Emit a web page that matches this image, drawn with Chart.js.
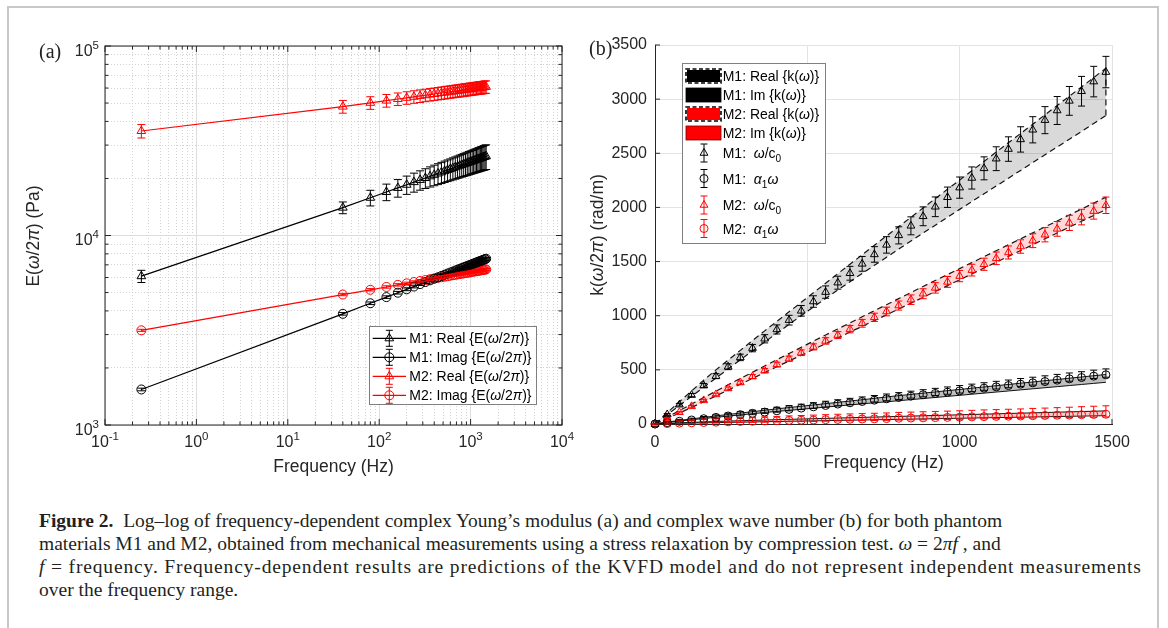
<!DOCTYPE html>
<html><head><meta charset="utf-8">
<script src="https://cdn.jsdelivr.net/npm/chart.js@4.4.1/dist/chart.umd.min.js"></script>
<style>
html,body{margin:0;padding:0;background:#fff;width:1168px;height:628px;overflow:hidden;}
#frame{position:absolute;left:7px;top:6px;width:1152px;height:640px;border:2px solid #c8c8c8;box-sizing:border-box;}
canvas{position:absolute;}
#ca{left:20px;top:20px;}
#cb{left:580px;top:20px;}
.plab{position:absolute;font-family:"Liberation Serif","Times New Roman",serif;font-size:20px;color:#222;line-height:24px;}
#cap{position:absolute;left:39px;top:509px;font-family:"Liberation Serif","Times New Roman",serif;font-size:19.5px;line-height:23px;color:#231f20;white-space:nowrap;}
#cap .l3{letter-spacing:0.85px;}
</style></head>
<body>
<div id="frame"></div>
<canvas id="ca" width="560" height="470"></canvas>
<canvas id="cb" width="580" height="470"></canvas>
<div class="plab" style="left:39px;top:39px">(a)</div>
<div class="plab" style="left:589px;top:36px">(b)</div>
<div id="cap"><b>Figure 2.</b>&nbsp; Log–log of frequency-dependent complex Young’s modulus (a) and complex wave number (b) for both phantom<br>materials M1 and M2, obtained from mechanical measurements using a stress relaxation by compression test. <i>ω</i> = 2<i>πf</i> , and<br><span class="l3"><i>f</i> = frequency. Frequency-dependent results are predictions of the KVFD model and do not represent independent measurements</span><br>over the frequency range.</div>
<script>
// ---------- shared frequencies ----------
const freqHz = [0.25, 40, 80, 120, 160, 200, 240, 280, 320, 360, 400, 440, 480, 520, 560, 600, 640, 680, 720, 760, 800, 840, 880, 920, 960, 1000, 1040, 1080, 1120, 1160, 1200, 1240, 1280, 1320, 1360, 1400, 1440, 1480];

// ---------- panel (a): complex Young's modulus (Pa) ----------
const m1RealE = [6100, 14030, 15820, 16970, 17830, 18530, 19130, 19640, 20100, 20520, 20900, 21240, 21570, 21870, 22150, 22410, 22670, 22900, 23130, 23350, 23560, 23760, 23950, 24130, 24310, 24490, 24650, 24810, 24970, 25120, 25270, 25410, 25550, 25690, 25820, 25950, 26080, 26200];
const m1RealEErr = [450, 1000, 1500, 1700, 1900, 2050, 2200, 2300, 2400, 2500, 2600, 2680, 2750, 2820, 2890, 2950, 3010, 3070, 3120, 3170, 3220, 3270, 3320, 3370, 3410, 3450, 3490, 3530, 3570, 3610, 3650, 3690, 3720, 3760, 3790, 3830, 3860, 3900];
const m1ImagE = [1540, 3860, 4390, 4730, 4990, 5200, 5380, 5540, 5680, 5800, 5920, 6020, 6120, 6210, 6300, 6380, 6450, 6530, 6600, 6660, 6730, 6790, 6850, 6900, 6960, 7010, 7060, 7110, 7160, 7210, 7250, 7300, 7340, 7380, 7420, 7460, 7500, 7540];
const m1ImagEErr = [25, 60, 70, 75, 80, 85, 90, 90, 95, 95, 100, 100, 100, 105, 105, 105, 110, 110, 110, 110, 115, 115, 115, 115, 120, 120, 120, 120, 120, 125, 125, 125, 125, 125, 130, 130, 130, 130];
const m2RealE = [35600, 47900, 50150, 51520, 52510, 53290, 53940, 54500, 54980, 55420, 55800, 56160, 56480, 56780, 57060, 57330, 57570, 57800, 58020, 58230, 58430, 58620, 58800, 58980, 59140, 59300, 59460, 59610, 59750, 59890, 60020, 60150, 60280, 60400, 60530, 60640, 60760, 60870];
const m2RealEErr = [2900, 3700, 3850, 3950, 4000, 4050, 4100, 4150, 4150, 4200, 4200, 4250, 4250, 4300, 4300, 4300, 4350, 4350, 4350, 4400, 4400, 4400, 4400, 4450, 4450, 4450, 4450, 4500, 4500, 4500, 4500, 4500, 4550, 4550, 4550, 4550, 4550, 4600];
const m2ImagE = [3160, 4880, 5170, 5350, 5490, 5590, 5680, 5750, 5820, 5880, 5930, 5980, 6020, 6060, 6100, 6140, 6170, 6200, 6230, 6260, 6290, 6310, 6340, 6360, 6380, 6410, 6430, 6450, 6470, 6490, 6510, 6520, 6540, 6560, 6570, 6590, 6610, 6620];
const m2ImagEErr = [40, 70, 75, 78, 80, 82, 84, 85, 86, 87, 88, 89, 90, 90, 91, 92, 92, 93, 93, 94, 94, 95, 95, 95, 96, 96, 96, 97, 97, 97, 98, 98, 98, 98, 99, 99, 99, 100];
const aXTickExps = [-1, 0, 1, 2, 3, 4];
const aYTickExps = [3, 4, 5];

// ---------- panel (b): complex wave number (rad/m) ----------
const m1OmegaC0 = [0.6, 88, 178, 267, 355, 442, 529, 615, 701, 787, 873, 959, 1045, 1131, 1218, 1305, 1392, 1479, 1566, 1654, 1742, 1830, 1918, 2006, 2094, 2183, 2272, 2361, 2450, 2539, 2628, 2717, 2806, 2895, 2984, 3073, 3162, 3250];
const m1OmegaC0Err = [1, 8, 12, 15, 19, 23, 27, 30, 34, 38, 42, 45, 49, 53, 57, 60, 64, 68, 72, 76, 79, 83, 87, 91, 94, 98, 102, 106, 110, 113, 117, 121, 125, 129, 133, 137, 141, 145];
const m1Alpha = [0.1, 13, 25, 37, 49, 61, 74, 86, 98, 110, 122, 135, 147, 159, 171, 184, 196, 208, 220, 233, 245, 257, 270, 282, 294, 306, 319, 331, 343, 355, 368, 380, 392, 405, 417, 429, 442, 454];
const m1AlphaErrUp = [1, 10, 14, 17, 20, 23, 25, 27, 29, 31, 33, 35, 36, 38, 39, 40, 41, 42, 43, 44, 45, 46, 47, 47, 48, 49, 49, 50, 51, 51, 52, 52, 53, 53, 54, 54, 55, 55];
const m1AlphaErrDn = [0.5, 4, 6, 7, 8, 9, 10, 11, 12, 12, 13, 14, 14, 15, 16, 16, 16, 17, 17, 18, 18, 18, 19, 19, 19, 20, 20, 20, 20, 20, 21, 21, 21, 21, 22, 22, 22, 22];
const m2OmegaC0 = [0.3, 55, 108, 163, 218, 273, 328, 383, 438, 493, 549, 603, 658, 712, 767, 821, 876, 930, 985, 1039, 1094, 1148, 1203, 1257, 1312, 1366, 1421, 1475, 1530, 1584, 1639, 1693, 1748, 1802, 1857, 1911, 1966, 2020];
const m2OmegaC0Err = [0.5, 4, 6, 8, 10, 12, 14, 16, 18, 20, 22, 24, 26, 28, 30, 32, 34, 36, 38, 40, 42, 44, 46, 48, 50, 52, 54, 56, 58, 60, 62, 64, 66, 68, 70, 72, 74, 76];
const m2Alpha = [0.1, 4, 8, 11, 14, 17, 20, 23, 25, 28, 30, 33, 35, 37, 40, 42, 44, 46, 48, 50, 53, 55, 57, 59, 61, 63, 66, 68, 70, 72, 74, 77, 79, 81, 83, 86, 88, 90];
const m2AlphaErrUp = [1, 15, 20, 24, 27, 30, 32, 34, 36, 38, 40, 42, 43, 45, 46, 48, 49, 50, 51, 52, 54, 55, 56, 57, 58, 59, 60, 62, 63, 64, 65, 67, 68, 70, 72, 74, 76, 78];
const m2AlphaErrDn = [0.05, 3, 5, 6, 7, 8, 9, 10, 10, 11, 12, 12, 13, 13, 14, 14, 15, 15, 16, 16, 17, 17, 18, 18, 19, 19, 20, 20, 21, 21, 22, 22, 23, 23, 24, 24, 25, 25];
const m1ReKUpper = [0.6, 105, 205, 305, 405, 500, 590, 680, 770, 860, 948, 1036, 1124, 1212, 1300, 1388, 1476, 1563, 1650, 1737, 1823, 1909, 1995, 2081, 2167, 2253, 2339, 2425, 2511, 2597, 2683, 2769, 2855, 2941, 3027, 3113, 3199, 3285];
const m1ReKLower = [0.4, 85, 170, 255, 340, 424, 508, 592, 675, 757, 839, 920, 1000, 1080, 1159, 1237, 1314, 1390, 1465, 1540, 1615, 1689, 1763, 1836, 1909, 1982, 2054, 2126, 2198, 2270, 2342, 2414, 2486, 2558, 2630, 2702, 2775, 2848];
const m2ReKUpper = [0.4, 62, 124, 184, 244, 303, 362, 420, 478, 536, 594, 651, 708, 765, 822, 878, 934, 990, 1046, 1102, 1158, 1214, 1270, 1325, 1380, 1435, 1490, 1545, 1600, 1655, 1710, 1765, 1820, 1875, 1930, 1985, 2040, 2095];
const m2ReKLower = [0.3, 50, 101, 153, 206, 259, 313, 367, 421, 475, 529, 582, 635, 689, 742, 795, 849, 902, 955, 1008, 1062, 1116, 1170, 1224, 1278, 1332, 1386, 1440, 1494, 1548, 1602, 1656, 1710, 1764, 1818, 1872, 1926, 1980];
const m1ImKUpper = [0.3, 18, 33, 47, 61, 75, 88, 101, 114, 127, 140, 152, 164, 176, 188, 200, 212, 224, 237, 250, 262, 273, 285, 296, 308, 319, 331, 342, 354, 365, 377, 388, 400, 411, 423, 434, 446, 457];
const m1ImKLower = [0.2, 14, 27, 39, 51, 62, 73, 84, 95, 106, 116, 126, 136, 146, 156, 166, 176, 186, 196, 205, 215, 225, 235, 245, 255, 265, 275, 285, 295, 305, 315, 325, 335, 345, 355, 365, 375, 385];
const m2ImKUpper = [0.1, 6, 11, 15, 19, 23, 27, 30, 33, 37, 40, 43, 46, 49, 52, 55, 58, 61, 64, 67, 70, 73, 76, 79, 82, 85, 88, 91, 94, 97, 100, 103, 106, 109, 112, 115, 118, 121];
const m2ImKLower = [0.05, 3, 6, 9, 11, 13, 15, 17, 19, 21, 23, 25, 27, 29, 31, 33, 35, 37, 39, 41, 43, 45, 47, 49, 51, 53, 55, 57, 59, 61, 63, 65, 67, 69, 71, 73, 75, 77];
const bXTicks = [0, 500, 1000, 1500];
const bYTicks = [0, 500, 1000, 1500, 2000, 2500, 3000, 3500];

// ---------- helpers ----------
const FAM = '"Liberation Sans", Arial, Helvetica, sans-serif';
const TXT = '#262626';
Chart.defaults.font.family = FAM;
Chart.defaults.color = TXT;
const pts = ys => freqHz.map((f, i) => ({x: f, y: ys[i]}));
const isDecade = v => Math.abs(Math.log10(v) - Math.round(Math.log10(v))) < 1e-9;
function logTicks(e0, e1) {
  const out = [];
  for (let e = e0; e < e1; e++) for (let m = 1; m < 10; m++) out.push(Number((m * Math.pow(10, e)).toPrecision(6)));
  out.push(Math.pow(10, e1));
  return out;
}
function fontOf(s, size) {
  const small = (s === 'b' || s === 'p');
  return (s === 'i' ? 'italic ' : '') + (small ? size * 0.72 : size) + 'px ' + FAM;
}
function richWidth(ctx, segs, size) {
  let w = 0;
  for (const [t, s] of segs) { ctx.font = fontOf(s, size); w += ctx.measureText(t).width; }
  return w;
}
function drawRich(ctx, segs, x, y, size, align) {
  const w = richWidth(ctx, segs, size);
  let cx = align === 'center' ? x - w / 2 : (align === 'right' ? x - w : x);
  ctx.textAlign = 'left'; ctx.textBaseline = 'alphabetic';
  const base = y + size * 0.36;
  for (const [t, s] of segs) {
    ctx.font = fontOf(s, size);
    const dy = s === 'b' ? size * 0.3 : (s === 'p' ? -size * 0.45 : 0);
    ctx.fillText(t, cx, base + dy);
    cx += ctx.measureText(t).width;
  }
}
function errBar(ctx, x, yt, yb, cap) {
  ctx.beginPath();
  ctx.moveTo(x, yt); ctx.lineTo(x, yb);
  ctx.moveTo(x - cap, yt); ctx.lineTo(x + cap, yt);
  ctx.moveTo(x - cap, yb); ctx.lineTo(x + cap, yb);
  ctx.stroke();
}
function marker(ctx, style, r, x, y, color) {
  ctx.save();
  ctx.strokeStyle = color; ctx.fillStyle = 'rgba(0,0,0,0)'; ctx.lineWidth = 1;
  Chart.helpers.drawPoint(ctx, {pointStyle: style, radius: r, borderWidth: 1, rotation: 0}, x, y);
  ctx.restore();
}

const errorBars = {
  id: 'errbars',
  afterDatasetsDraw(chart, args, opts) {
    const ctx = chart.ctx, ys = chart.scales.y;
    chart.data.datasets.forEach((ds, i) => {
      if (!ds.errUp) return;
      const meta = chart.getDatasetMeta(i);
      ctx.save();
      ctx.strokeStyle = ds.borderColor; ctx.lineWidth = 1;
      meta.data.forEach((el, j) => {
        const v = ds.data[j].y;
        errBar(ctx, el.x, ys.getPixelForValue(v + ds.errUp[j]), ys.getPixelForValue(v - ds.errDn[j]), opts.cap);
      });
      ctx.restore();
    });
  }
};

// ---------- chart (a) ----------
const OXA = 20, OYA = 20;
const legendA = [
  {color: '#000', style: 'triangle', r: 5, segs: [['M1: Real {E(', 'n'], ['ω', 'i'], ['/2', 'n'], ['π', 'i'], [')}', 'n']]},
  {color: '#000', style: 'circle', r: 4.5, segs: [['M1: Imag {E(', 'n'], ['ω', 'i'], ['/2', 'n'], ['π', 'i'], [')}', 'n']]},
  {color: '#ff0000', style: 'triangle', r: 5, segs: [['M2: Real {E(', 'n'], ['ω', 'i'], ['/2', 'n'], ['π', 'i'], [')}', 'n']]},
  {color: '#ff0000', style: 'circle', r: 4.5, segs: [['M2: Imag {E(', 'n'], ['ω', 'i'], ['/2', 'n'], ['π', 'i'], [')}', 'n']]}
];
const decorA = {
  id: 'decorA',
  afterDraw(chart) {
    const {ctx, chartArea: ca, scales: {x, y}} = chart;
    ctx.save();
    ctx.strokeStyle = TXT; ctx.lineWidth = 1;
    ctx.strokeRect(ca.left, ca.top, ca.right - ca.left, ca.bottom - ca.top);
    // inner ticks
    ctx.beginPath();
    x.ticks.forEach(t => {
      const px = x.getPixelForValue(t.value), L = isDecade(t.value) ? 6 : 3.5;
      ctx.moveTo(px, ca.bottom); ctx.lineTo(px, ca.bottom - L);
      ctx.moveTo(px, ca.top); ctx.lineTo(px, ca.top + L);
    });
    y.ticks.forEach(t => {
      const py = y.getPixelForValue(t.value), L = isDecade(t.value) ? 6 : 3.5;
      ctx.moveTo(ca.left, py); ctx.lineTo(ca.left + L, py);
      ctx.moveTo(ca.right, py); ctx.lineTo(ca.right - L, py);
    });
    ctx.stroke();
    // tick labels 10^n
    ctx.fillStyle = TXT;
    aXTickExps.forEach(e => {
      const px = x.getPixelForValue(Math.pow(10, e));
      drawRich(ctx, [['10', 'n'], [String(e), 'p']], px, ca.bottom + 16, 16, 'center');
    });
    aYTickExps.forEach(e => {
      const py = y.getPixelForValue(Math.pow(10, e));
      drawRich(ctx, [['10', 'n'], [String(e), 'p']], 79, py + 4, 16, 'right');
    });
    // y title
    ctx.save();
    ctx.translate(33 - OXA, 236 - OYA); ctx.rotate(-Math.PI / 2);
    drawRich(ctx, [['E(', 'n'], ['ω', 'i'], ['/2', 'n'], ['π', 'i'], [') (Pa)', 'n']], 0, 0, 17.5, 'center');
    ctx.restore();
    // legend
    const bx = 369.5 - OXA, by = 326.5 - OYA, bw = 167, bh = 78;
    ctx.fillStyle = '#fff'; ctx.fillRect(bx, by, bw, bh);
    ctx.strokeStyle = '#7f7f7f'; ctx.lineWidth = 1; ctx.strokeRect(bx, by, bw, bh);
    legendA.forEach((it, k) => {
      const ry = 338.3 - OYA + k * 19;
      ctx.strokeStyle = it.color; ctx.lineWidth = 1.2;
      ctx.beginPath(); ctx.moveTo(372.7 - OXA, ry); ctx.lineTo(406 - OXA, ry); ctx.stroke();
      ctx.lineWidth = 1;
      errBar(ctx, 389.3 - OXA, ry - 8, ry + 8, 3.5);
      marker(ctx, it.style, it.r, 389.3 - OXA, ry, it.color);
      ctx.fillStyle = '#000';
      drawRich(ctx, it.segs, 409.3 - OXA, ry, 14, 'left');
    });
    ctx.restore();
  }
};
const lineA = (label, data, err, color, style, r) => ({
  label, data: pts(data), errUp: err, errDn: err,
  borderColor: color, backgroundColor: color, borderWidth: 1.2,
  pointStyle: style, pointRadius: r, pointBorderWidth: 1, pointBorderColor: color,
  pointBackgroundColor: 'rgba(0,0,0,0)', tension: 0, fill: false, clip: 10
});
new Chart(document.getElementById('ca'), {
  type: 'line',
  data: {datasets: [
    lineA('M1: Real {E(ω/2π)}', m1RealE, m1RealEErr, '#000000', 'triangle', 5),
    lineA('M1: Imag {E(ω/2π)}', m1ImagE, m1ImagEErr, '#000000', 'circle', 4.5),
    lineA('M2: Real {E(ω/2π)}', m2RealE, m2RealEErr, '#ff0000', 'triangle', 5),
    lineA('M2: Imag {E(ω/2π)}', m2ImagE, m2ImagEErr, '#ff0000', 'circle', 4.5)
  ]},
  options: {
    responsive: false, animation: false, devicePixelRatio: 1,
    layout: {padding: {left: 0, top: 26, right: 18, bottom: 0}},
    plugins: {legend: {display: false}, tooltip: {enabled: false}, errbars: {cap: 4}},
    scales: {
      x: {
        type: 'logarithmic', min: 0.1, max: 10000,
        afterBuildTicks: s => { s.ticks = logTicks(-1, 4).map(v => ({value: v, major: isDecade(v)})); },
        afterFit: s => { s.height = 65; },
        ticks: {display: false},
        grid: {drawTicks: false, lineWidth: 1, color: c => (c.tick && isDecade(c.tick.value)) ? '#dedede' : '#d2d2d2'},
        border: {display: false, dash: c => (c.tick && isDecade(c.tick.value)) ? [] : [1, 2]},
        title: {display: true, text: 'Frequency (Hz)', color: TXT, font: {size: 17.5, family: FAM}, padding: {top: 0, bottom: 12.8}}
      },
      y: {
        type: 'logarithmic', min: 1000, max: 100000,
        afterBuildTicks: s => { s.ticks = logTicks(3, 5).map(v => ({value: v, major: isDecade(v)})); },
        afterFit: s => { s.width = 85; },
        ticks: {display: false},
        grid: {drawTicks: false, lineWidth: 1, color: c => (c.tick && isDecade(c.tick.value)) ? '#dedede' : '#d2d2d2'},
        border: {display: false, dash: c => (c.tick && isDecade(c.tick.value)) ? [] : [1, 2]}
      }
    }
  },
  plugins: [errorBars, decorA]
});

// ---------- chart (b) ----------
const OXB = 580, OYB = 20;
const legendB = [
  {type: 'patch', fill: '#000', dash: true, segs: [['M1: Real {k(', 'n'], ['ω', 'i'], [')}', 'n']]},
  {type: 'patch', fill: '#000', dash: false, segs: [['M1: Im {k(', 'n'], ['ω', 'i'], [')}', 'n']]},
  {type: 'patch', fill: '#ff0000', dash: true, segs: [['M2: Real {k(', 'n'], ['ω', 'i'], [')}', 'n']]},
  {type: 'patch', fill: '#ff0000', dash: false, segs: [['M2: Im {k(', 'n'], ['ω', 'i'], [')}', 'n']]},
  {type: 'mark', color: '#000', style: 'triangle', segs: [['M1:  ', 'n'], ['ω', 'i'], ['/c', 'n'], ['0', 'b']]},
  {type: 'mark', color: '#000', style: 'circle', segs: [['M1:  ', 'n'], ['α', 'i'], ['1', 'b'], ['ω', 'i']]},
  {type: 'mark', color: '#ff0000', style: 'triangle', segs: [['M2:  ', 'n'], ['ω', 'i'], ['/c', 'n'], ['0', 'b']]},
  {type: 'mark', color: '#ff0000', style: 'circle', segs: [['M2:  ', 'n'], ['α', 'i'], ['1', 'b'], ['ω', 'i']]}
];
const legendBRowY = [76, 95, 114, 133, 153, 178.5, 205, 228.5];
const decorB = {
  id: 'decorB',
  afterDraw(chart) {
    const {ctx, chartArea: ca, scales: {x, y}} = chart;
    ctx.save();
    ctx.strokeStyle = TXT; ctx.lineWidth = 1;
    ctx.beginPath();
    bXTicks.forEach(v => { const px = x.getPixelForValue(v); ctx.moveTo(px, ca.bottom); ctx.lineTo(px, ca.bottom - 5); });
    bYTicks.forEach(v => { const py = y.getPixelForValue(v); ctx.moveTo(ca.left, py); ctx.lineTo(ca.left + 5, py); });
    ctx.stroke();
    // y title
    ctx.save();
    ctx.fillStyle = TXT;
    ctx.translate(597 - OXB, 235 - OYB); ctx.rotate(-Math.PI / 2);
    drawRich(ctx, [['k(', 'n'], ['ω', 'i'], ['/2', 'n'], ['π', 'i'], [') (rad/m)', 'n']], 0, 0, 17.5, 'center');
    ctx.restore();
    // legend
    const bx = 682.5 - OXB, by = 63.5 - OYB, bw = 143, bh = 180;
    ctx.fillStyle = '#fff'; ctx.fillRect(bx, by, bw, bh);
    ctx.strokeStyle = '#7f7f7f'; ctx.lineWidth = 1; ctx.strokeRect(bx, by, bw, bh);
    legendB.forEach((it, k) => {
      const ry = legendBRowY[k] - OYB;
      const px0 = 686 - OXB, pw = 35, ph = 14;
      if (it.type === 'patch') {
        ctx.save();
        if (it.dash) {
          ctx.fillStyle = it.fill; ctx.fillRect(px0 + 1, ry - ph / 2 + 1, pw - 2, ph - 2);
          ctx.strokeStyle = '#000'; ctx.lineWidth = 1.6; ctx.setLineDash([4, 2.5]);
          ctx.strokeRect(px0, ry - ph / 2, pw, ph);
        } else {
          ctx.fillStyle = it.fill; ctx.fillRect(px0, ry - ph / 2, pw, ph);
          ctx.strokeStyle = it.fill === '#000' ? '#000' : '#7a0000'; ctx.lineWidth = 0.8;
          ctx.strokeRect(px0, ry - ph / 2, pw, ph);
        }
        ctx.restore();
      } else {
        ctx.strokeStyle = it.color; ctx.lineWidth = 1;
        errBar(ctx, 704 - OXB, ry - 9, ry + 9, 3.5);
        marker(ctx, it.style, it.style === 'triangle' ? 4.5 : 4, 704 - OXB, ry, it.color);
      }
      ctx.fillStyle = '#000';
      drawRich(ctx, it.segs, 722.7 - OXB, ry, 14, 'left');
    });
    ctx.restore();
  }
};
const markB = (label, data, up, dn, color, style, r) => ({
  label, data: pts(data), errUp: up, errDn: dn, showLine: false,
  borderColor: color, backgroundColor: color, borderWidth: 1,
  pointStyle: style, pointRadius: r, pointBorderWidth: 1, pointBorderColor: color,
  pointBackgroundColor: 'rgba(0,0,0,0)', clip: 10
});
const bandB = (label, data, dashed, fill, bg) => ({
  label, data: pts(data), borderColor: '#141414', borderWidth: dashed ? 1.2 : 1,
  borderDash: dashed ? [6, 4] : [], pointRadius: 0, tension: 0,
  fill: fill ? '+1' : false, backgroundColor: bg || 'rgba(0,0,0,0)'
});
const closeB = (label, lower, upper) => ({
  label, data: [{x: freqHz[freqHz.length - 1], y: lower[lower.length - 1]}, {x: freqHz[freqHz.length - 1], y: upper[upper.length - 1]}],
  borderColor: '#141414', borderWidth: 1.2, borderDash: [6, 4], pointRadius: 0, fill: false
});
new Chart(document.getElementById('cb'), {
  type: 'line',
  data: {datasets: [
    markB('M1: ω/c0', m1OmegaC0, m1OmegaC0Err, m1OmegaC0Err, '#000000', 'triangle', 4.5),
    markB('M1: α1ω', m1Alpha, m1AlphaErrUp, m1AlphaErrDn, '#000000', 'circle', 4),
    markB('M2: ω/c0', m2OmegaC0, m2OmegaC0Err, m2OmegaC0Err, '#ff0000', 'triangle', 4.5),
    markB('M2: α1ω', m2Alpha, m2AlphaErrUp, m2AlphaErrDn, '#ff0000', 'circle', 4),
    bandB('M1: Real {k(ω)}', m1ReKUpper, true, true, 'rgba(0,0,0,0.15)'),
    bandB('M1 Re lower', m1ReKLower, true, false),
    closeB('M1 Re edge', m1ReKLower, m1ReKUpper),
    bandB('M2: Real {k(ω)}', m2ReKUpper, true, true, 'rgba(255,0,0,0.15)'),
    bandB('M2 Re lower', m2ReKLower, true, false),
    closeB('M2 Re edge', m2ReKLower, m2ReKUpper),
    bandB('M1: Im {k(ω)}', m1ImKUpper, false, true, 'rgba(0,0,0,0.25)'),
    bandB('M1 Im lower', m1ImKLower, false, false),
    bandB('M2: Im {k(ω)}', m2ImKUpper, false, true, 'rgba(255,0,0,0.22)'),
    bandB('M2 Im lower', m2ImKLower, false, false)
  ]},
  options: {
    responsive: false, animation: false, devicePixelRatio: 1,
    layout: {padding: {left: 0, top: 25, right: 48, bottom: 0}},
    plugins: {legend: {display: false}, tooltip: {enabled: false}, errbars: {cap: 3.5}},
    scales: {
      x: {
        type: 'linear', min: 0, max: 1500,
        afterBuildTicks: s => { s.ticks = bXTicks.map(v => ({value: v})); },
        afterFit: s => { s.height = 66; },
        ticks: {font: {size: 16, family: FAM}, color: TXT, padding: 9, maxRotation: 0, autoSkip: false, callback: v => String(v)},
        grid: {drawTicks: false, color: '#e3e3e3', lineWidth: 1},
        border: {display: true, color: TXT, width: 1},
        title: {display: true, text: 'Frequency (Hz)', color: TXT, font: {size: 17.5, family: FAM}, padding: {top: 0, bottom: 16}}
      },
      y: {
        type: 'linear', min: 0, max: 3500,
        afterBuildTicks: s => { s.ticks = bYTicks.map(v => ({value: v})); },
        afterFit: s => { s.width = 75; },
        ticks: {font: {size: 16, family: FAM}, color: TXT, padding: 8, autoSkip: false, callback: v => String(v)},
        grid: {drawTicks: false, color: '#e3e3e3', lineWidth: 1},
        border: {display: true, color: TXT, width: 1}
      }
    }
  },
  plugins: [errorBars, decorB]
});
</script>
</body></html>
